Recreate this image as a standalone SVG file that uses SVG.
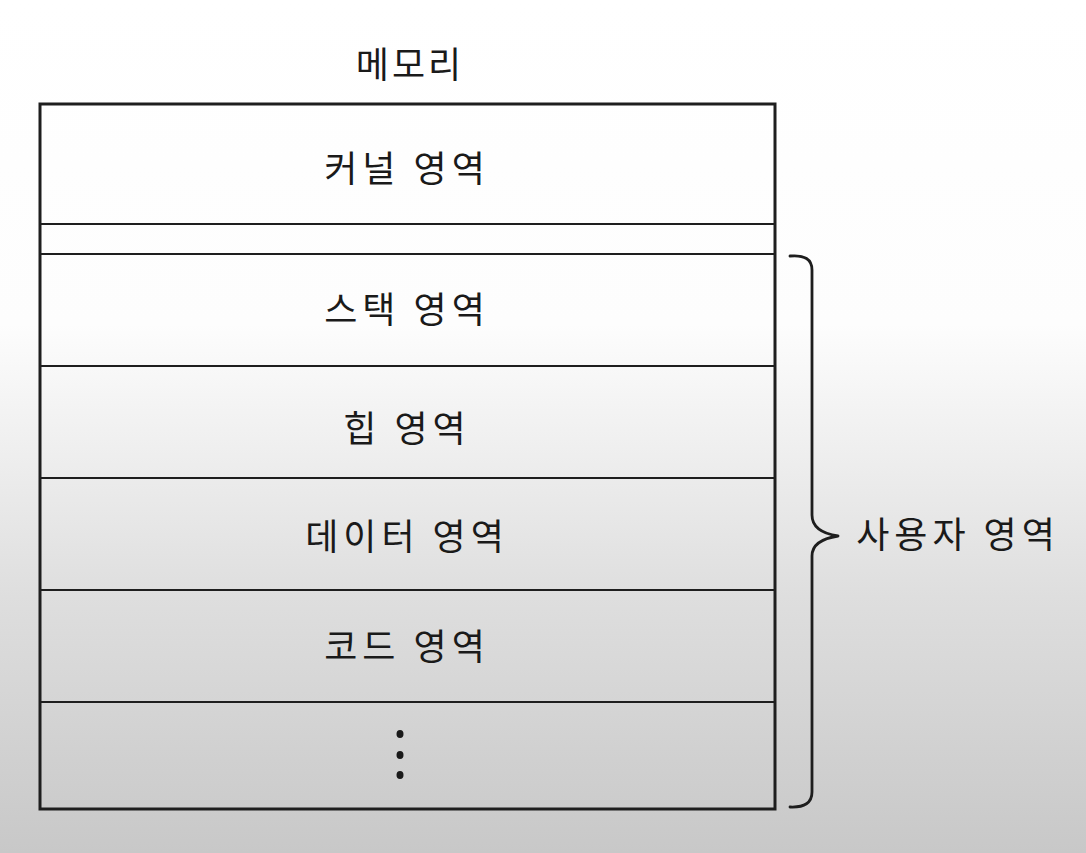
<svg xmlns="http://www.w3.org/2000/svg" width="1086" height="853" viewBox="0 0 1086 853">
  <defs>
    <linearGradient id="bg" x1="0" y1="0" x2="0" y2="1">
      <stop offset="0" stop-color="#ffffff"/>
      <stop offset="0.38" stop-color="#fdfdfd"/>
      <stop offset="0.7" stop-color="#dedede"/>
      <stop offset="1" stop-color="#c8c8c8"/>
    </linearGradient>
    <style>
      .lbl { font-family: "Noto Sans CJK KR", "Noto Sans", sans-serif; font-size: 36px; fill: #1a1a1a; text-anchor: middle; letter-spacing: 5px; }
      .frame { fill: none; stroke: #1e1e1e; stroke-width: 3; }
      .sep { stroke: #1e1e1e; stroke-width: 2.2; }
      .dot { fill: #1a1a1a; }
    </style>
  </defs>
  <rect x="0" y="0" width="1086" height="853" fill="url(#bg)"/>

  <text class="lbl" x="410" y="78" font-size="34" style="letter-spacing:3px">메모리</text>

  <g id="memory">
    <rect class="frame" x="40" y="104" width="735" height="705"/>
  </g>

  <g id="connectors">
    <line class="sep" x1="40" y1="224" x2="775" y2="224"/>
    <line class="sep" x1="40" y1="254" x2="775" y2="254"/>
    <line class="sep" x1="40" y1="366" x2="775" y2="366"/>
    <line class="sep" x1="40" y1="478" x2="775" y2="478"/>
    <line class="sep" x1="40" y1="590" x2="775" y2="590"/>
    <line class="sep" x1="40" y1="702" x2="775" y2="702"/>
  </g>

  <g id="kernel">
    <text class="lbl" x="407" y="182">커널 영역</text>
  </g>
  <g id="gap"></g>
  <g id="stack">
    <text class="lbl" x="407" y="323">스택 영역</text>
  </g>
  <g id="heap">
    <text class="lbl" x="407" y="442">힙 영역</text>
  </g>
  <g id="data">
    <text class="lbl" x="407" y="550">데이터 영역</text>
  </g>
  <g id="code">
    <text class="lbl" x="407" y="660">코드 영역</text>
  </g>
  <g id="more">
    <ellipse class="dot" cx="400" cy="734" rx="3.5" ry="4"/>
    <ellipse class="dot" cx="400" cy="755" rx="3.5" ry="4"/>
    <ellipse class="dot" cx="400" cy="775" rx="3.5" ry="4"/>
  </g>

  <g id="user-brace">
    <path d="M790 256 Q812 254 812 270 L812 515 Q812 532 838 536 Q812 540 812 556 L812 792 Q812 808 790 807" fill="none" stroke="#1e1e1e" stroke-width="2.8" stroke-linecap="round" stroke-linejoin="round"/>
    <text class="lbl" x="958" y="548">사용자 영역</text>
  </g>
</svg>
